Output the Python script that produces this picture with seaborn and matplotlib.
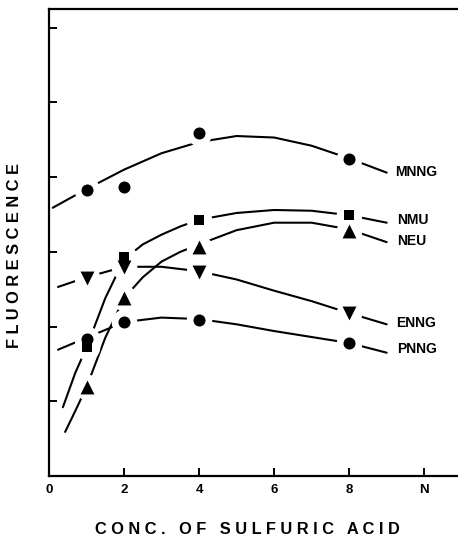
import matplotlib
matplotlib.use("Agg")
import matplotlib.pyplot as plt
import seaborn as sns
import pandas as pd
import numpy as np

# ---- data ----
conc = [1, 2, 4, 8]
mnng_pts = [3.83, 3.87, 4.59, 4.24]
nmu_pts = [1.73, 2.93, 3.43, 3.49]
neu_pts = [1.19, 2.38, 3.07, 3.28]
enng_pts = [2.65, 2.80, 2.73, 2.18]
pnng_pts = [1.83, 2.06, 2.09, 1.78]

# smooth fitted curves
mnng_fit_x = [0.1, 1, 2, 3, 4, 5, 6, 7, 8, 9.0]
mnng_fit_y = [3.59, 3.84, 4.10, 4.32, 4.47, 4.55, 4.53, 4.42, 4.25, 4.06]
nmu_fit_x = [0.37, 0.7, 1, 1.5, 2, 2.5, 3, 3.5, 4, 5, 6, 7, 8, 9.0]
nmu_fit_y = [0.92, 1.38, 1.72, 2.38, 2.90, 3.10, 3.23, 3.34, 3.43, 3.52, 3.56, 3.55, 3.49, 3.39]
neu_fit_x = [0.43, 0.7, 1, 1.5, 2, 2.5, 3, 3.5, 4, 5, 6, 7, 8, 9.0]
neu_fit_y = [0.59, 0.87, 1.19, 1.85, 2.38, 2.66, 2.87, 3.00, 3.10, 3.29, 3.39, 3.39, 3.30, 3.13]
enng_fit_x = [0.24, 1, 2, 3, 4, 5, 6, 7, 8, 9.0]
enng_fit_y = [2.53, 2.66, 2.80, 2.80, 2.74, 2.63, 2.48, 2.34, 2.18, 2.03]
pnng_fit_x = [0.24, 1, 2, 3, 4, 5, 6, 7, 8, 9.0]
pnng_fit_y = [1.69, 1.85, 2.06, 2.12, 2.10, 2.03, 1.94, 1.86, 1.78, 1.65]

series = ["MNNG", "NMU", "NEU", "ENNG", "PNNG"]
label_x = [9.23, 9.28, 9.28, 9.25, 9.28]
label_y = [4.07, 3.43, 3.15, 2.05, 1.70]

xtick_vals = [0, 2, 4, 6, 8, 10]
xtick_labels = ["0", "2", "4", "6", "8", "N"]
ytick_vals = [1, 2, 3, 4, 5, 6]

# ---- build tables ----
pts = {"MNNG": mnng_pts, "NMU": nmu_pts, "NEU": neu_pts, "ENNG": enng_pts, "PNNG": pnng_pts}
fits = {"MNNG": (mnng_fit_x, mnng_fit_y), "NMU": (nmu_fit_x, nmu_fit_y),
        "NEU": (neu_fit_x, neu_fit_y), "ENNG": (enng_fit_x, enng_fit_y),
        "PNNG": (pnng_fit_x, pnng_fit_y)}
df_pts = pd.concat([pd.DataFrame({"conc": conc, "val": pts[s], "series": s}) for s in series])
df_fit = pd.concat([pd.DataFrame({"conc": fits[s][0], "val": fits[s][1], "series": s}) for s in series])

sns.set_style("ticks")
plt.rcParams["font.family"] = ["Liberation Sans", "DejaVu Sans"]
plt.rcParams["text.color"] = "black"
plt.rcParams["axes.edgecolor"] = "black"
plt.rcParams["xtick.color"] = "black"
plt.rcParams["ytick.color"] = "black"

fig = plt.figure(figsize=(4.58, 5.42), dpi=100)
ax = fig.add_axes([49 / 458, 66 / 542, 1 - 49 / 458, 467 / 542])

sns.lineplot(data=df_fit, x="conc", y="val", units="series", estimator=None,
             color="black", lw=1.5, ax=ax, zorder=2, sort=False)

markers = {"MNNG": "o", "NMU": "s", "NEU": "^", "ENNG": "v", "PNNG": "o"}
sizes_map = {"o": 75, "s": 62, "^": 100, "v": 100}
# white halos that break the curves around the points
sns.scatterplot(data=df_pts, x="conc", y="val", color="white", marker="o", s=340,
                linewidth=0, ax=ax, zorder=3, legend=False)
for s in series:
    d = df_pts[df_pts["series"] == s]
    m = markers[s]
    sns.scatterplot(data=d, x="conc", y="val", color="black", marker=m,
                    s=sizes_map[m], linewidth=0, ax=ax, zorder=4, legend=False)

for s, lx, ly in zip(series, label_x, label_y):
    ax.text(lx, ly, s, fontsize=10, fontweight="bold", ha="left", va="center",
            color="black")

ax.set_xlim(0, 10.9)
ax.set_ylim(0, 6.25)
ax.set_xticks(xtick_vals)
ax.set_xticklabels(xtick_labels, fontsize=9.5, fontweight="bold")
ax.set_yticks(ytick_vals)
ax.set_yticklabels([])
ax.tick_params(axis="both", direction="in", length=6, width=1.4, colors="black")
ax.tick_params(axis="x", pad=6)
ax.set_xlabel("")
ax.set_ylabel("")
for sp in ["left", "bottom", "top"]:
    ax.spines[sp].set_linewidth(1.6)
    ax.spines[sp].set_visible(True)
ax.spines["right"].set_visible(False)

fig.text(247 / 458, 1 - 530 / 542, "C O N C .   O F   S U L F U R I C   A C I D",
         ha="center", va="center", fontsize=11.8, fontweight="bold")
fig.text(15 / 458, 1 - 256 / 542, "F L U O R E S C E N C E",
         ha="center", va="center", rotation=90, fontsize=11.8, fontweight="bold")

fig.savefig("out.png", dpi=100)
